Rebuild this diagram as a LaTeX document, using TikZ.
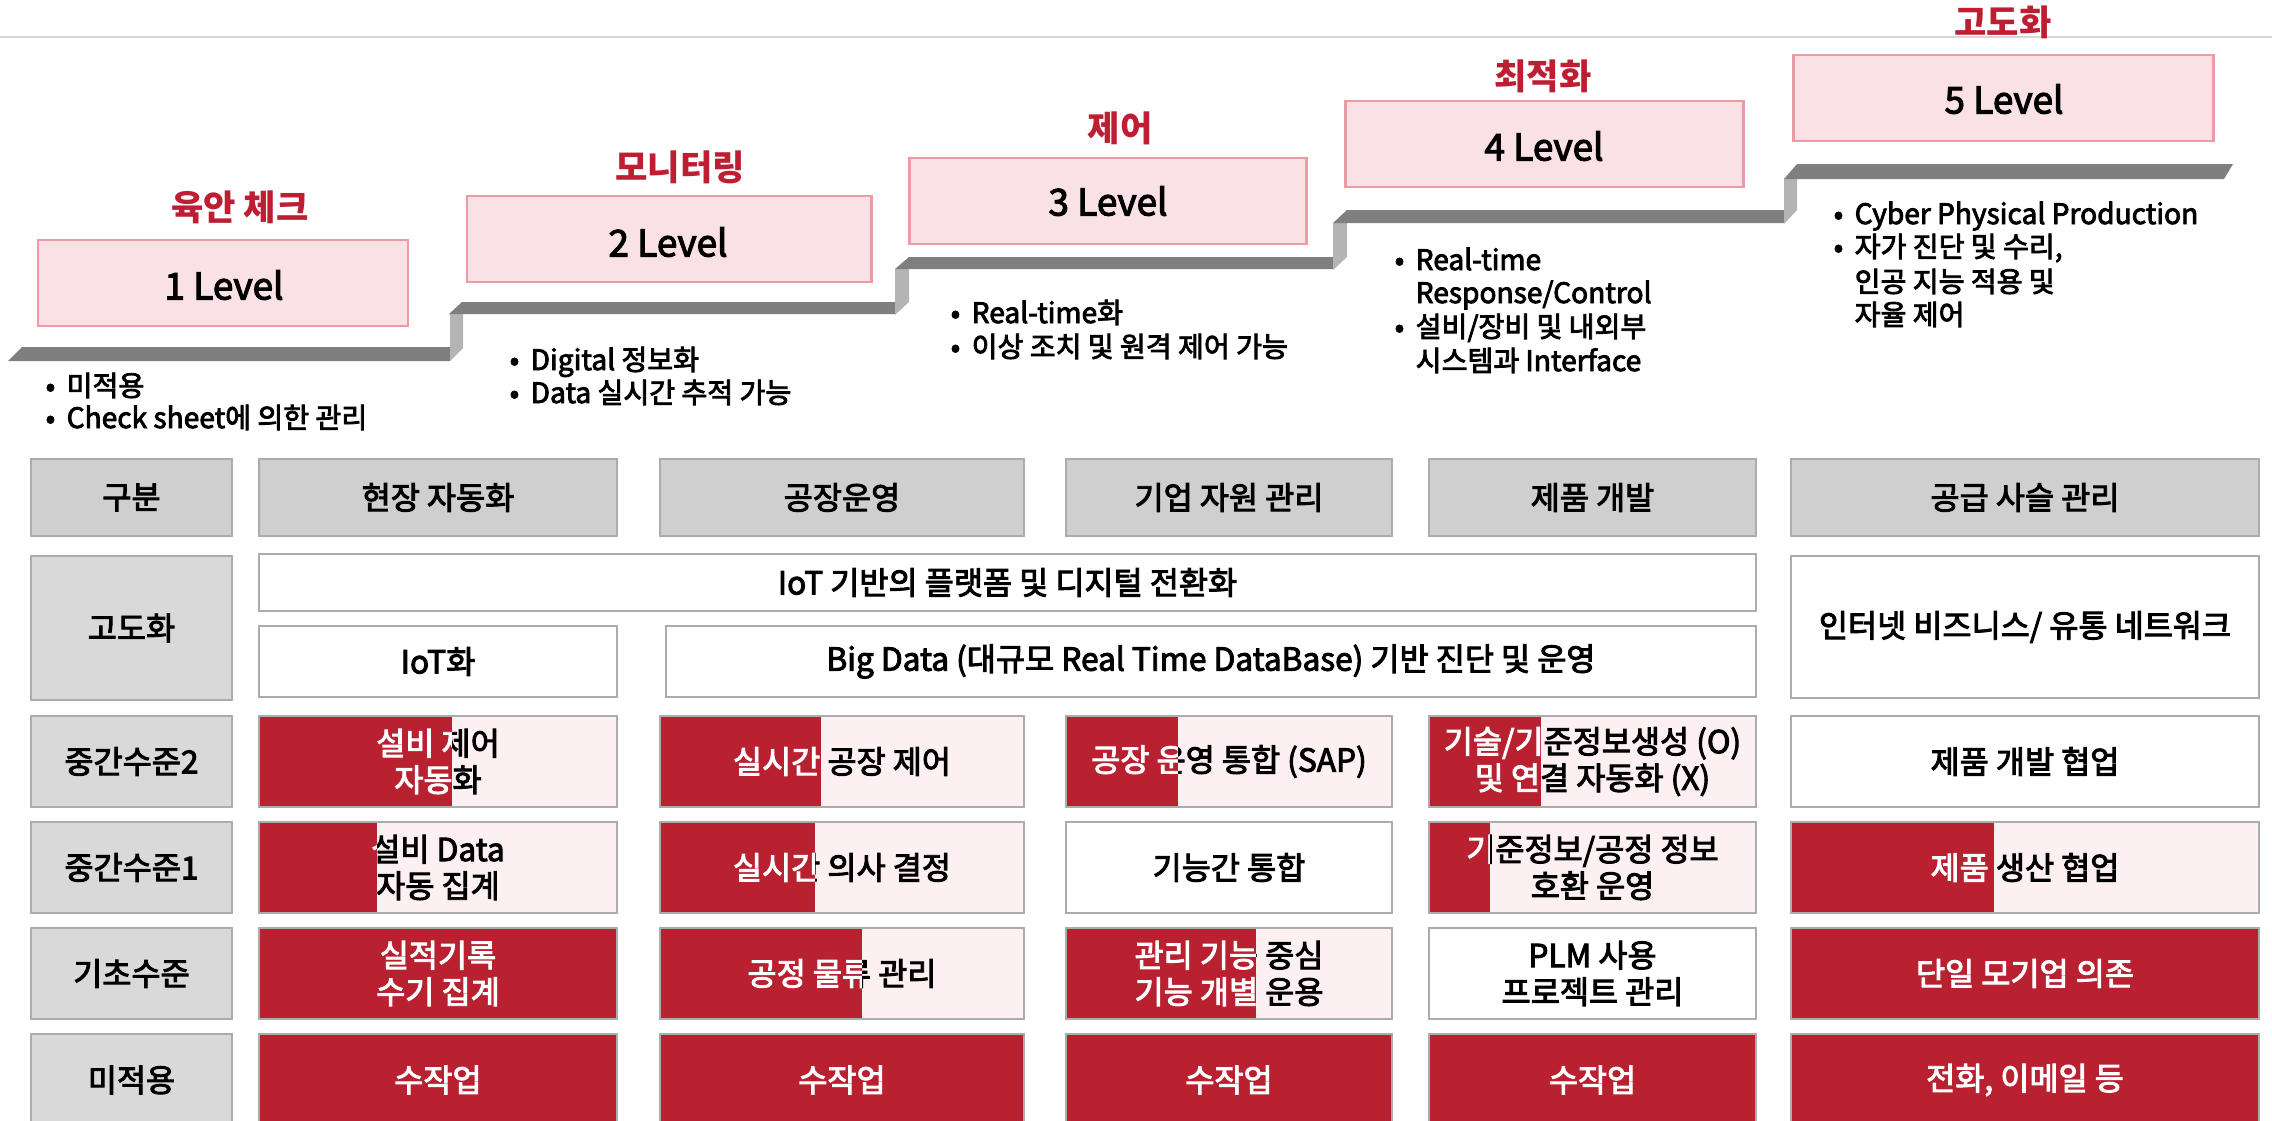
\documentclass[tikz,border=0pt]{standalone}
\usepackage{fontspec}
\setmainfont{Noto Sans CJK KR}
\newfontfamily\medfont{Noto Sans CJK KR}[FakeBold=3]
\usetikzlibrary{calc}
\definecolor{dred}{RGB}{185,33,49}
\definecolor{lpink}{RGB}{252,240,242}
\definecolor{lvlfill}{RGB}{249,225,229}
\definecolor{lvlline}{RGB}{236,155,165}
\definecolor{ttlred}{RGB}{190,30,50}
\definecolor{hdrgray}{RGB}{207,207,207}
\definecolor{lblgray}{RGB}{217,217,217}
\definecolor{bordgray}{RGB}{172,172,172}
\definecolor{treadgray}{RGB}{127,127,127}
\definecolor{risergray}{RGB}{180,180,180}
\definecolor{toplinec}{RGB}{215,215,215}
\newcommand\bul{\makebox[0.21cm][l]{•}}
\newcommand\SplitT[7]{%
  \fill[lpink] (#2,#3) rectangle (#4,#5);
  \fill[dred] (#2,#3) rectangle (#6,#5);
  \begin{scope}\clip (#2,#3) rectangle (#6,#5);
    \node[celltxt,text=white] (#1w) at ($(#2,#3)!0.5!(#4,#5)$) {#7};\end{scope}
  \begin{scope}\clip (#6,#3) rectangle (#4,#5);
    \node[celltxt,text=black] (#1) at ($(#2,#3)!0.5!(#4,#5)$) {#7};\end{scope}
  \draw[cellline] (#2,#3) rectangle (#4,#5);}
\newcommand\BoxT[8]{%
  \draw[#1] (#4,#5) rectangle (#6,#7);
  \node[celltxt,text=#2] (#3) at ($(#4,#5)!0.5!(#6,#7)$) {#8};}
\begin{document}
\begin{tikzpicture}[x=0.01cm,y=-0.01cm,
  lvlbox/.style={draw=lvlline,fill=lvlfill,line width=0.85pt},
  lvltxt/.style={font=\medfont\fontsize{10.5}{12}\selectfont, inner sep=0pt},
  ttl/.style={font=\fontsize{10}{12}\selectfont\bfseries, text=ttlred, inner sep=0pt},
  bl/.style={font=\medfont\fontsize{8}{9.6}\selectfont, anchor=base west, inner sep=0pt},
  celltxt/.style={font=\medfont\fontsize{9}{10.4}\selectfont, align=center, inner sep=0pt},
  cellline/.style={draw=bordgray,line width=0.55pt},
  hdr/.style={draw=bordgray,fill=hdrgray,line width=0.55pt},
  lbl/.style={draw=bordgray,fill=lblgray,line width=0.55pt},
  wcell/.style={draw=bordgray,fill=white,line width=0.55pt},
  rcell/.style={draw=bordgray,fill=dred,line width=0.55pt},
  tread/.style={fill=treadgray},
  riser/.style={fill=risergray}]
\useasboundingbox (0,0) rectangle (2272,1121);
\draw[toplinec,line width=0.6pt] (0,37) -- (2272,37);

% stairs
\fill[tread] (8,361) -- (22,347) -- (450,347) -- (450,361) -- cycle;
\fill[riser] (450,314) -- (463,314) -- (463,348) -- (450,361) -- cycle;
\fill[tread] (449,314) -- (462,302) -- (895,302) -- (895,314) -- cycle;
\fill[riser] (895,269) -- (909,269) -- (909,302) -- (895,315) -- cycle;
\fill[tread] (895,269) -- (909,257) -- (1333,257) -- (1333,269) -- cycle;
\fill[riser] (1333,223) -- (1347,223) -- (1347,257) -- (1333,270) -- cycle;
\fill[tread] (1333,223) -- (1347,210) -- (1784,210) -- (1784,223) -- cycle;
\fill[riser] (1784,179) -- (1797,179) -- (1797,210) -- (1784,224) -- cycle;
\fill[tread] (1784,179) -- (1797,164) -- (2233,164) -- (2224,179) -- cycle;

% level boxes
\draw[lvlbox] (38,240) rectangle (408,326);
\node[lvltxt] (L1) at (224,285) {1 Level};
\draw[lvlbox] (467,196) rectangle (871,282);
\node[lvltxt] (L2) at (668,242) {2 Level};
\draw[lvlbox] (909,158) rectangle (1306,244);
\node[lvltxt] (L3) at (1108,201) {3 Level};
\draw[lvlbox] (1345,101) rectangle (1743,187);
\node[lvltxt] (L4) at (1544,146) {4 Level};
\draw[lvlbox] (1793,55) rectangle (2213,141);
\node[lvltxt] (L5) at (2004,99) {5 Level};

% titles
\node[ttl] (T1) at (240,207) {육안 체크};
\node[ttl] (T2) at (680,167) {모니터링};
\node[ttl] (T3) at (1120,128) {제어};
\node[ttl] (T4) at (1543,76) {최적화};
\node[ttl] (T5) at (2003,22) {고도화};

% bullets
\node[bl] (b11) at (45,396) {\bul 미적용};
\node[bl] (b12) at (45,428) {\bul Check sheet에 의한 관리};
\node[bl] (b21) at (509,370) {\bul Digital 정보화};
\node[bl] (b22) at (509,403) {\bul Data 실시간 추적 가능};
\node[bl] (b31) at (950,323) {\bul Real-time화};
\node[bl] (b32) at (950,357) {\bul 이상 조치 및 원격 제어 가능};
\node[bl] (b41) at (1394,270) {\bul Real-time};
\node[bl] (b42) at (1415,303) {Response/Control};
\node[bl] (b43) at (1394,337) {\bul 설비/장비 및 내외부};
\node[bl] (b44) at (1415,371) {시스템과 Interface};
\node[bl] (b51) at (1833,224) {\bul Cyber Physical Production};
\node[bl] (b52) at (1833,257) {\bul 자가 진단 및 수리,};
\node[bl] (b53) at (1854,292) {인공 지능 적용 및};
\node[bl] (b54) at (1854,325) {자율 제어};

% header row
\BoxT{hdr}{black}{h0}{31}{459}{232}{536}{구분}
\BoxT{hdr}{black}{h1}{259}{459}{617}{536}{현장 자동화}
\BoxT{hdr}{black}{h2}{660}{459}{1024}{536}{공장운영}
\BoxT{hdr}{black}{h3}{1066}{459}{1392}{536}{기업 자원 관리}
\BoxT{hdr}{black}{h4}{1429}{459}{1756}{536}{제품 개발}
\BoxT{hdr}{black}{h5}{1791}{459}{2259}{536}{공급 사슬 관리}

% row labels
\BoxT{lbl}{black}{r1}{31}{556}{232}{700}{고도화}
\BoxT{lbl}{black}{r2}{31}{716}{232}{807}{중간수준2}
\BoxT{lbl}{black}{r3}{31}{822}{232}{913}{중간수준1}
\BoxT{lbl}{black}{r4}{31}{928}{232}{1019}{기초수준}
\BoxT{lbl}{black}{r5}{31}{1034}{232}{1126}{미적용}

% 고도화 row
\BoxT{wcell}{black}{g1}{259}{554}{1756}{611}{IoT 기반의 플랫폼 및 디지털 전환화}
\BoxT{wcell}{black}{g2}{259}{626}{617}{697}{IoT화}
\BoxT{wcell}{black}{g3}{666}{626}{1756}{697}{Big Data (대규모 Real Time DataBase) 기반 진단 및 운영}
\BoxT{wcell}{black}{g4}{1791}{556}{2259}{698}{인터넷 비즈니스/ 유통 네트워크}

% 중간수준2
\SplitT{m2a}{259}{716}{617}{807}{452}{설비 제어\\자동화}
\SplitT{m2b}{660}{716}{1024}{807}{821}{실시간 공장 제어}
\SplitT{m2c}{1066}{716}{1392}{807}{1178}{공장 운영 통합 (SAP)}
\SplitT{m2d}{1429}{716}{1756}{807}{1541}{기술/기준정보생성 (O)\\및 연결 자동화 (X)}
\BoxT{wcell}{black}{m2e}{1791}{716}{2259}{807}{제품 개발 협업}

% 중간수준1
\SplitT{m1a}{259}{822}{617}{913}{377}{설비 Data\\자동 집계}
\SplitT{m1b}{660}{822}{1024}{913}{815}{실시간 의사 결정}
\BoxT{wcell}{black}{m1c}{1066}{822}{1392}{913}{기능간 통합}
\SplitT{m1d}{1429}{822}{1756}{913}{1490}{기준정보/공정 정보\\호환 운영}
\SplitT{m1e}{1791}{822}{2259}{913}{1994}{제품 생산 협업}

% 기초수준
\BoxT{rcell}{white}{f1}{259}{928}{617}{1019}{실적기록\\수기 집계}
\SplitT{f2}{660}{928}{1024}{1019}{862}{공정 물류 관리}
\SplitT{f3}{1066}{928}{1392}{1019}{1256}{관리 기능 중심\\기능 개별 운용}
\BoxT{wcell}{black}{f4}{1429}{928}{1756}{1019}{PLM 사용\\프로젝트 관리}
\BoxT{rcell}{white}{f5}{1791}{928}{2259}{1019}{단일 모기업 의존}

% 미적용
\BoxT{rcell}{white}{n1}{259}{1034}{617}{1126}{수작업}
\BoxT{rcell}{white}{n2}{660}{1034}{1024}{1126}{수작업}
\BoxT{rcell}{white}{n3}{1066}{1034}{1392}{1126}{수작업}
\BoxT{rcell}{white}{n4}{1429}{1034}{1756}{1126}{수작업}
\BoxT{rcell}{white}{n5}{1791}{1034}{2259}{1126}{전화, 이메일 등}
\end{tikzpicture}
\end{document}
